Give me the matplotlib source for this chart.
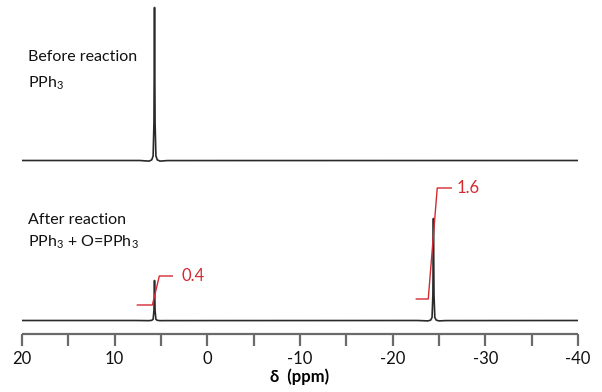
import numpy as np
import matplotlib
matplotlib.use("Agg")
import matplotlib.pyplot as plt

plt.rcParams["font.family"] = ["Lato", "DejaVu Sans"]
plt.rcParams["mathtext.fontset"] = "custom"
plt.rcParams["mathtext.rm"] = "Lato"
plt.rcParams["mathtext.it"] = "Lato:italic"
plt.rcParams["axes.unicode_minus"] = False

# --- data ---------------------------------------------------------------
# peak line shape, relative to peak centre (ppm) and peak height
profile_dx = [-1.5, -0.6, -0.3, -0.15, -0.06, 0.0, 0.06, 0.15, 0.3, 0.6, 1.5]
profile_h = [0.0, -0.004, 0.004, 0.03, 0.25, 1.0, 0.25, 0.03, 0.004, -0.004, 0.0]

# before reaction: PPh3 only
before_shift = [5.7]
before_height = [153.0]

# after reaction: PPh3 and O=PPh3
after_shift = [5.7, -24.4]
after_height = [40.0, 102.0]

# offsets of the two traces (plot units)
before_offset = 173.5
after_offset = 13.5

# integral traces: (ppm, y) corners
integ1_x = [7.55, 5.93, 5.18, 3.78]
integ1_y = [29.0, 29.0, 58.0, 58.0]
integ1_label = "0.4"
integ2_x = [-22.55, -23.84, -24.81, -26.32]
integ2_y = [35.0, 35.0, 146.0, 146.0]
integ2_label = "1.6"

major_ticks = [20, 10, 0, -10, -20, -30, -40]
minor_ticks = [15, 5, -5, -15, -25, -35]


def build_trace(shifts, heights, grid):
    y = np.zeros_like(grid)
    for s, h in zip(shifts, heights):
        y += h * np.interp(grid - s, profile_dx, profile_h, left=0.0, right=0.0)
    return y


grid = np.sort(np.concatenate([
    np.linspace(-40, 20, 601),
    *[np.array(profile_dx) + s for s in set(before_shift + after_shift)],
]))
grid = grid[(grid >= -40) & (grid <= 20)]

fig = plt.figure(figsize=(6.02, 3.92), dpi=100)
ax = fig.add_axes([22 / 602, 58 / 392, 556 / 602, 334 / 392])

line_col = "#2a2a2a"
red = "#d42a32"
ax.plot(grid, before_offset + build_trace(before_shift, before_height, grid),
        color=line_col, lw=1.2)
ax.plot(grid, after_offset + build_trace(after_shift, after_height, grid),
        color=line_col, lw=1.2)

ax.plot(integ1_x, integ1_y, color=red, lw=1.0)
ax.plot(integ2_x, integ2_y, color=red, lw=1.0)
ax.text(integ1_x[-1] - 1.0, integ1_y[-1], integ1_label, color=red,
        fontsize=12, va="center", ha="left")
ax.text(integ2_x[-1] - 0.6, integ2_y[-1], integ2_label, color=red,
        fontsize=12, va="center", ha="left")

ax.text(19.4, 277, "Before reaction", fontsize=11.5, color="#111", va="center")
ax.text(19.4, 251, "PPh$_3$", fontsize=11.5, color="#111", va="center")
ax.text(19.4, 114, "After reaction", fontsize=11.5, color="#111", va="center")
ax.text(19.4, 92, "PPh$_3$ + O=PPh$_3$", fontsize=11.5, color="#111", va="center")

ax.set_xlim(20, -40)
ax.set_ylim(0, 334)
for side in ["top", "left", "right"]:
    ax.spines[side].set_visible(False)
ax.spines["bottom"].set_color("#6a6a6a")
ax.spines["bottom"].set_linewidth(1.6)
ax.spines["bottom"].set_capstyle("butt")
ax.set_yticks([])
ax.set_xticks(major_ticks)
ax.set_xticks(minor_ticks, minor=True)
ax.tick_params(axis="x", which="both", direction="out", length=8.5, width=1.6,
               color="#6a6a6a", labelsize=12, labelcolor="#111", pad=4)
ax.tick_params(axis="x", which="minor", labelbottom=False)
ax.set_xlabel("δ  (ppm)", fontsize=12, fontweight="bold", labelpad=1)
ax.patch.set_alpha(0)

fig.savefig("out.png", dpi=100)
